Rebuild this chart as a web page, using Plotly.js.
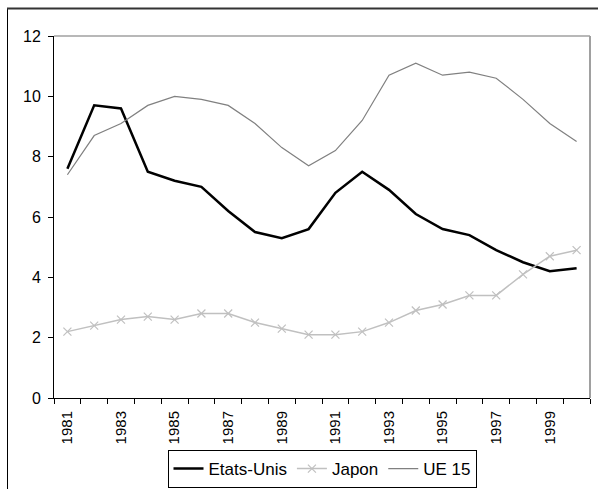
<!DOCTYPE html>
<html>
<head>
<meta charset="utf-8">
<script src="https://cdn.plot.ly/plotly-3.0.1.min.js"></script>
<style>html,body{margin:0;padding:0;background:#fff;overflow:hidden}#chart{width:598px;height:489px}</style>
</head>
<body>
<div id="chart"></div>
<script>
const years = [1981,1982,1983,1984,1985,1986,1987,1988,1989,1990,1991,1992,1993,1994,1995,1996,1997,1998,1999,2000];
const etatsUnis = [7.6,9.7,9.6,7.5,7.2,7.0,6.2,5.5,5.3,5.6,6.8,7.5,6.9,6.1,5.6,5.4,4.9,4.5,4.2,4.3];
const japon = [2.2,2.4,2.6,2.7,2.6,2.8,2.8,2.5,2.3,2.1,2.1,2.2,2.5,2.9,3.1,3.4,3.4,4.1,4.7,4.9];
const ue15 = [7.4,8.7,9.1,9.7,10.0,9.9,9.7,9.1,8.3,7.7,8.2,9.2,10.7,11.1,10.7,10.8,10.6,9.9,9.1,8.5];
const labelYears = [1981,1983,1985,1987,1989,1991,1993,1995,1997,1999];
const yTicks = [0,2,4,6,8,10,12];

const traces = [
  {x: years, y: etatsUnis, name: 'Etats-Unis', type: 'scatter', mode: 'lines',
   line: {color: '#000000', width: 2.5}},
  {x: years, y: japon, name: 'Japon', type: 'scatter', mode: 'lines+markers',
   line: {color: '#c0c0c0', width: 1.5},
   marker: {symbol: 'x-thin', size: 8, line: {color: '#c0c0c0', width: 1.2}, color: '#c0c0c0'}},
  {x: years, y: ue15, name: 'UE 15', type: 'scatter', mode: 'lines',
   line: {color: '#808080', width: 1.2}}
];

const W = 598, H = 489, L = 54, R = 8, T = 36, B = 91;
const pw = W - L - R, ph = H - T - B;
const px = v => (v - L) / pw;
const py = v => (H - B - v) / ph;

const layout = {
  width: W, height: H,
  margin: {l: L, r: R, t: T, b: B, pad: 0, autoexpand: false},
  paper_bgcolor: '#ffffff', plot_bgcolor: '#ffffff',
  font: {family: "'Liberation Sans', Arial, sans-serif", color: '#000000', size: 15},
  showlegend: true,
  legend: {orientation: 'h', x: 0.5, xanchor: 'center', y: py(488), yanchor: 'bottom',
           bordercolor: '#000000', borderwidth: 1, bgcolor: '#ffffff',
           font: {size: 17}, itemwidth: 30, tracegroupgap: 0},
  xaxis: {
    automargin: false,
    range: [1980.5, 2000.5], tickmode: 'array', tickvals: labelYears,
    ticktext: labelYears.map(String), tickangle: -90, ticks: '',
    ticklabelstandoff: 6,
    tickfont: {size: 15}, showgrid: false, zeroline: false,
    showline: true, linecolor: '#000000', linewidth: 1,
    minor: {tick0: 1980.5, dtick: 1, ticks: 'outside', ticklen: 5, tickcolor: '#000000', showgrid: false}
  },
  yaxis: {
    automargin: false,
    range: [0, 12], tickmode: 'array', tickvals: yTicks, ticks: 'outside', ticklen: 5,
    ticklabelstandoff: 4,
    tickcolor: '#000000', showgrid: false, zeroline: false,
    showline: true, linecolor: '#000000', linewidth: 1, tickfont: {size: 16}
  },
  shapes: [
    {type: 'line', xref: 'paper', yref: 'paper', x0: 0, x1: 1, y0: 1, y1: 1, line: {color: '#a0a0a0', width: 1.5}},
    {type: 'line', xref: 'paper', yref: 'paper', x0: 1, x1: 1, y0: 0, y1: 1, line: {color: '#a0a0a0', width: 2}},
    {type: 'line', xref: 'paper', yref: 'paper', x0: px(7.5), x1: px(7.5), y0: py(489), y1: py(8), line: {color: '#000000', width: 1}},
    {type: 'line', xref: 'paper', yref: 'paper', x0: px(7), x1: px(598), y0: py(8.5), y1: py(8.5), line: {color: '#333333', width: 2}}
  ]
};

Plotly.newPlot('chart', traces, layout, {displayModeBar: false, staticPlot: true});
</script>
</body>
</html>
